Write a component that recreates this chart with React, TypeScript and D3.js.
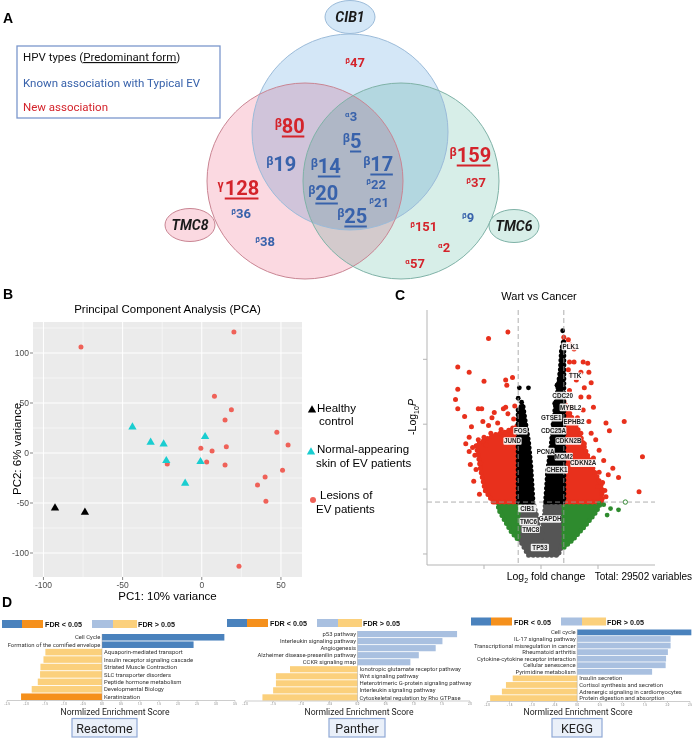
import React from 'react';
import * as d3 from 'd3';

const SANS = 'Roboto, "Liberation Sans", Arial, sans-serif';
const ARIAL = '"Liberation Sans", Arial, Helvetica, sans-serif';
const BLUE_TXT = '#3862ab';
const RED_TXT = '#d4232b';

// ---------- A: HPV types found with each EV gene ----------
const hpvTypes = ['47', '80', '19', '128', '36', '38', '3', '5', '14', '17', '22', '20', '21', '25', '159', '37', '9', '151', '2', '57'];
const hpvGenus = ['β', 'β', 'β', 'γ', 'β', 'β', 'α', 'β', 'β', 'β', 'β', 'β', 'β', 'β', 'β', 'β', 'β', 'β', 'α', 'α'];
const hpvKnownEV = [false, false, true, false, true, true, true, true, true, true, true, true, true, true, false, false, true, false, false, false];
const hpvPredominant = [false, true, false, true, false, false, false, true, true, true, false, true, false, true, true, false, false, false, false, false];
const hpvFrequent = [false, true, true, true, false, false, false, true, true, true, false, true, false, true, true, false, false, false, false, false];

// centre x / baseline y of every type inside the diagram
const vennSpots: Record<string, [number, number]> = {
  '47': [355, 67], '80': [289.5, 133], '19': [281, 171], '128': [238, 195], '36': [241, 218], '38': [265, 246],
  '3': [351, 121], '5': [352, 148], '14': [325.5, 173], '17': [378, 171], '22': [376, 188.5], '20': [323, 200],
  '21': [379, 207], '25': [352, 223], '159': [470, 162], '37': [476, 187], '9': [468, 222], '151': [423.5, 231],
  '2': [444, 252], '57': [415, 268],
};

// ---------- B: PCA scores (PC1, PC2) ----------
const pcaHealthy = [[-92.7, -55], [-73.8, -59.3]];
const pcaNormal = [[-43.8, 26], [-32.3, 10.7], [-24.1, 9], [-22.4, -7.7], [-10.5, -30.3], [-0.8, -8.7], [2.1, 16.3]];
const pcaLesion = [
  [-76.3, 106], [20.3, 121], [8, 56.7], [18.7, 43.3], [14.7, 33], [47.4, 20.7], [54.5, 8], [-0.6, 4.7], [15.5, 6.3],
  [6.5, 2], [3.1, -9], [-21.8, -11], [14.7, -12], [51, -17.3], [40, -24], [35.2, -32], [40.5, -48.3], [23.5, -113.3],
];

// ---------- C: volcano (log2 fold change, -log10 P) ----------
const fcCut = 2;
const pCut = 4;
const volcanoRedLeft = [
  [-2.9, 17.1], [-4.6, 16.6], [-7.3, 14.4], [-6.3, 14.0], [-5.0, 13.3], [-3.1, 13.4], [-2.5, 13.6], [-3.0, 13.0],
  [-7.5, 11.9], [-7.3, 12.7], [-7.3, 11.2], [-5.5, 11.2], [-5.2, 11.2], [-3.3, 11.2], [-3.1, 11.3], [-2.3, 11.4],
  [-6.7, 10.6], [-4.1, 10.9], [-4.3, 10.5], [-2.9, 10.8], [-6.1, 9.8], [-5.1, 10.2], [-4.6, 9.9], [-3.8, 10.1],
  [-6.3, 9.0], [-6.0, 8.2], [-6.3, 7.9], [-5.5, 8.8], [-5.0, 9.0], [-5.3, 7.0], [-5.7, 6.5], [-2.4, 10.4],
  [-3.5, 9.6], [-4.4, 9.3], [-5.8, 7.6], [-4.8, 8.4], [-6.6, 8.5], [-5.9, 5.6], [-5.4, 4.6], [-6.2, 6.9],
];
const volcanoRedRight = [
  [2.0, 16.7], [2.4, 16.5], [2.6, 16.1], [2.9, 15.8], [2.5, 14.8], [2.9, 14.8], [3.7, 14.8], [4.1, 14.7],
  [2.4, 14.2], [2.6, 13.8], [3.5, 14.0], [4.2, 14.0], [3.1, 13.4], [3.8, 12.8], [2.5, 12.6], [4.4, 13.2],
  [3.5, 12.1], [4.2, 12.1], [4.6, 11.3], [3.7, 11.1], [2.6, 11.3], [3.2, 10.5], [4.2, 10.2], [5.7, 10.1],
  [6.0, 9.5], [7.3, 10.2], [3.5, 9.3], [4.4, 9.3], [4.8, 8.8], [3.8, 8.5], [5.1, 8.0], [4.6, 7.4], [5.5, 7.2],
  [6.3, 6.6], [8.9, 7.5], [5.1, 6.3], [5.9, 6.1], [6.8, 5.9], [5.4, 5.5], [5.0, 5.2], [5.6, 4.9], [8.6, 4.8], [5.7, 4.4],
];
const volcanoBlack = [[1.9, 17.2], [-1.9, 12.8], [-1.1, 12.8], [-2.0, 12.0], [-1.7, 11.7], [1.6, 13.4], [1.8, 14.5], [1.4, 13.0], [1.2, 11.6]];
const volcanoGreen = [[6.1, 3.5], [6.8, 3.4], [5.5, 3.8], [5.1, 3.9], [5.8, 3.0], [4.4, 3.6]];
const volcanoGreenOpen = [[7.4, 4.0]];
// outlines of the densely packed clouds
const cloudBlackLeft = [[-2.0, 4.0], [-2.0, 11.1], [-1.6, 11.5], [-1.4, 10.3], [-1.1, 8.7], [-0.9, 6.8], [-0.7, 4.0]];
const cloudBlackRight = [[0.4, 4.0], [0.6, 6.5], [0.9, 8.4], [1.1, 10.3], [1.4, 12.2], [1.7, 14.2], [1.8, 15.7], [2.0, 16.5], [2.0, 4.0]];
const cloudGray = [[-2.0, 4.0], [-0.7, 4.0], [-0.4, 3.0], [0.0, 1.1], [0.3, 3.0], [0.4, 4.0], [2.0, 4.0], [2.0, 1.1], [1.5, -0.1], [-1.1, -0.1], [-2.0, 1.3]];
const cloudRedLeft = [[-4.2, 4.0], [-4.9, 4.9], [-5.3, 6.5], [-5.5, 7.6], [-5.7, 8.4], [-4.9, 8.8], [-4.0, 9.2], [-3.1, 9.4], [-2.5, 9.7], [-2.0, 9.9], [-2.0, 4.0]];
const cloudRedRight = [[2.0, 4.0], [2.0, 11.8], [2.6, 10.7], [3.3, 9.5], [3.9, 8.0], [4.6, 6.5], [5.3, 5.3], [5.4, 4.0]];
const cloudGreenLeft = [[-3.8, 4.0], [-2.0, 4.0], [-2.0, 1.1], [-2.6, 1.7], [-3.2, 2.6], [-3.7, 3.4]];
const cloudGreenRight = [[2.0, 4.0], [5.3, 4.0], [4.8, 3.2], [3.9, 2.2], [2.8, 1.1], [2.0, 0.5]];
const volcanoGenes = ['PLK1', 'TTK', 'CDC20', 'MYBL2', 'GTSE1', 'EPHB2', 'FOS', 'CDC25A', 'JUND', 'CDKN2B', 'PCNA', 'MCM2', 'CDKN2A', 'CHEK1', 'CIB1', 'TMC6', 'GAPDH', 'TMC8', 'TP53'];
const volcanoGeneAt = [
  [2.6, 16.0], [3.0, 13.7], [1.9, 12.2], [2.6, 11.3], [0.9, 10.5], [2.9, 10.2], [-1.8, 9.5], [1.1, 9.5], [-2.5, 8.7],
  [2.4, 8.7], [0.4, 7.9], [2.0, 7.5], [3.7, 7.0], [1.4, 6.5], [-1.2, 3.5], [-1.1, 2.5], [0.8, 2.7], [-0.9, 1.9], [-0.1, 0.5],
];

// ---------- D: enrichment (NES, FDR < 0.05) ----------
const reactomeTerms = ['Cell Cycle', 'Formation of the cornified envelope', 'Aquaporin-mediated transport', 'Insulin receptor signaling cascade', 'Striated Muscle Contraction', 'SLC transporter disorders', 'Peptide hormone metabolism', 'Developmental Biology', 'Keratinization'];
const reactomeNES = [3.22, 2.41, -1.49, -1.54, -1.62, -1.63, -1.69, -1.85, -2.13];
const reactomeSig = [true, true, false, false, false, false, false, false, true];

const pantherTerms = ['p53 pathway', 'Interleukin signaling pathway', 'Angiogenesis', 'Alzheimer disease-presenilin pathway', 'CCKR signaling map', 'Ionotropic glutamate receptor pathway', 'Wnt signaling pathway', 'Heterotrimeric G-protein signaling pathway', 'Interleukin signaling pathway', 'Cytoskeletal regulation by Rho GTPase'];
const pantherNES = [1.77, 1.51, 1.39, 1.09, 0.94, -1.2, -1.45, -1.45, -1.5, -1.69];
const pantherSig = [false, false, false, false, false, false, false, false, false, false];

const keggTerms = ['Cell cycle', 'IL-17 signaling pathway', 'Transcriptional misregulation in cancer', 'Rheumatoid arthritis', 'Cytokine-cytokine receptor interaction', 'Cellular senescence', 'Pyrimidine metabolism', 'Insulin secretion', 'Cortisol synthesis and secretion', 'Adrenergic signaling in cardiomyocytes', 'Protein digestion and absorption'];
const keggNES = [2.53, 2.07, 2.07, 2.01, 1.97, 1.96, 1.66, -1.43, -1.58, -1.67, -1.93];
const keggSig = [true, false, false, false, false, false, false, false, false, false, false];

const C_UP = '#4a82bd';
const C_DOWN = '#f5901c';
const C_UP_NS = '#a9c0e0';
const C_DOWN_NS = '#fbd07c';

function PanelLetter({ x, y, t }: { x: number; y: number; t: string }) {
  return <text x={x} y={y} fontFamily={ARIAL} fontWeight="bold" fontSize={14}>{t}</text>;
}

function Venn() {
  const sets = [
    { name: 'CIB1', cx: 350, cy: 132, fill: '#d4e7f7', stroke: '#9bbbd9', tag: [350, 17] },
    { name: 'TMC8', cx: 305, cy: 181, fill: '#fbd9e1', stroke: '#c98593', tag: [190, 225] },
    { name: 'TMC6', cx: 401, cy: 181, fill: '#d7eee8', stroke: '#7fb2a7', tag: [514, 226] },
  ];
  return (
    <g>
      <g style={{ isolation: 'isolate' }}>
        {sets.map(s => (
          <circle key={s.name} cx={s.cx} cy={s.cy} r={98} fill={s.fill} style={{ mixBlendMode: 'multiply' }} />
        ))}
      </g>
      {sets.map(s => (
        <circle key={s.name + 'o'} cx={s.cx} cy={s.cy} r={98} fill="none" stroke={s.stroke} strokeWidth={1} />
      ))}
      {sets.map(s => (
        <g key={s.name + 't'}>
          <ellipse cx={s.tag[0]} cy={s.tag[1]} rx={25} ry={16.5} fill={s.fill} stroke={s.stroke} strokeWidth={1} />
          <text x={s.tag[0]} y={s.tag[1] + 5} textAnchor="middle" fontFamily={SANS} fontWeight="bold" fontStyle="italic" fontSize={14} fill="#1a1a1a">{s.name}</text>
        </g>
      ))}
      {hpvTypes.map((t, i) => {
        const [cx, by] = vennSpots[t];
        const fs = hpvFrequent[i] ? 20 : 13;
        const sup = fs * 0.6;
        const gw = sup * 0.6;
        const dw = t.length * fs * 0.562;
        const left = cx - (gw + dw) / 2;
        const col = hpvKnownEV[i] ? BLUE_TXT : RED_TXT;
        return (
          <g key={t} fill={col} fontFamily={SANS} fontWeight="bold">
            <text x={left} y={by - fs * 0.32} fontSize={sup}>{hpvGenus[i]}</text>
            <text x={left + gw} y={by} fontSize={fs}>{t}</text>
            {hpvPredominant[i] && (
              <line x1={left + gw} x2={left + gw + dw} y1={by + 3.5} y2={by + 3.5} stroke={col} strokeWidth={2} />
            )}
          </g>
        );
      })}
      <rect x={17} y={46} width={203} height={72} fill="#fff" stroke="#7b97cc" strokeWidth={1.3} />
      <g fontFamily={SANS} fontSize={11.5}>
        <text x={23} y={61} fill="#111">HPV types (<tspan style={{ textDecoration: 'underline' }}>Predominant form</tspan>)</text>
        <text x={23} y={87} fill={BLUE_TXT}>Known association with Typical EV</text>
        <text x={23} y={111} fill={RED_TXT}>New association</text>
      </g>
    </g>
  );
}

function Pca() {
  const x = d3.scaleLinear().domain([-106.6, 63.3]).range([33, 302]);
  const y = d3.scaleLinear().domain([-124, 131]).range([577, 322]);
  const xMajor = [-100, -50, 0, 50];
  const xMinor = [-75, -25, 25];
  const yMajor = [-100, -50, 0, 50, 100];
  const yMinor = [-75, -25, 25, 75, 125];
  const tri = d3.symbol(d3.symbolTriangle).size(30)() as string;
  return (
    <g fontFamily={ARIAL}>
      <text x={167.5} y={313} textAnchor="middle" fontSize={11.5}>Principal Component Analysis (PCA)</text>
      <rect x={33} y={322} width={269} height={255} fill="#ebebeb" />
      {xMinor.map(v => <line key={'xm' + v} x1={x(v)} x2={x(v)} y1={322} y2={577} stroke="#fff" strokeWidth={0.5} />)}
      {yMinor.map(v => <line key={'ym' + v} y1={y(v)} y2={y(v)} x1={33} x2={302} stroke="#fff" strokeWidth={0.5} />)}
      {xMajor.map(v => <line key={'xM' + v} x1={x(v)} x2={x(v)} y1={322} y2={577} stroke="#fff" strokeWidth={1} />)}
      {yMajor.map(v => <line key={'yM' + v} y1={y(v)} y2={y(v)} x1={33} x2={302} stroke="#fff" strokeWidth={1} />)}
      {xMajor.map(v => (
        <g key={'xt' + v}>
          <line x1={x(v)} x2={x(v)} y1={577} y2={580} stroke="#333" strokeWidth={0.6} />
          <text x={x(v)} y={588} textAnchor="middle" fontSize={8.5} fill="#4d4d4d">{v}</text>
        </g>
      ))}
      {yMajor.map(v => (
        <g key={'yt' + v}>
          <line x1={30} x2={33} y1={y(v)} y2={y(v)} stroke="#333" strokeWidth={0.6} />
          <text x={29} y={y(v) + 3} textAnchor="end" fontSize={8.5} fill="#4d4d4d">{v}</text>
        </g>
      ))}
      <text x={167.5} y={600} textAnchor="middle" fontSize={11.5}>PC1: 10% variance</text>
      <text transform={`translate(21,${y(0) - 4}) rotate(-90)`} textAnchor="middle" fontSize={11.5}>PC2: 6% variance</text>
      {pcaLesion.map((d, i) => <circle key={'l' + i} cx={x(d[0])} cy={y(d[1])} r={2.5} fill="#ef6158" />)}
      {pcaNormal.map((d, i) => <path key={'n' + i} d={tri} transform={`translate(${x(d[0])},${y(d[1])})`} fill="#19cdd0" />)}
      {pcaHealthy.map((d, i) => <path key={'h' + i} d={tri} transform={`translate(${x(d[0])},${y(d[1])})`} fill="#000" />)}
      <g fontSize={11.5}>
        <path d={tri} transform="translate(312,410)" fill="#000" />
        <text x={317} y={411.5}>Healthy</text>
        <text x={319} y={424.5}>control</text>
        <path d={tri} transform="translate(311,452)" fill="#19cdd0" />
        <text x={317} y={453}>Normal-appearing</text>
        <text x={316} y={466.5}>skin of EV patients</text>
        <circle cx={313} cy={500} r={3} fill="#ef6158" />
        <text x={320} y={499}>Lesions of</text>
        <text x={316} y={513}>EV patients</text>
      </g>
    </g>
  );
}

function Volcano() {
  const x = d3.scaleLinear().domain([-10, 10]).range([427, 655]);
  const y = d3.scaleLinear().domain([-0.85, 18.8]).range([565, 310]);
  const poly = (pts: number[][]) => d3.line().curve(d3.curveLinearClosed)(pts.map(p => [x(p[0]), y(p[1])] as [number, number])) as string;
  // a dense cloud: filled outline plus a dotted rim so the edge reads as points
  const cloud = (pts: number[][], c: string) => (
    <g>
      <path d={poly(pts)} fill={c} stroke={c} strokeWidth={2.5} strokeLinejoin="round" />
      <path d={poly(pts)} fill="none" stroke={c} strokeWidth={5} strokeLinecap="round" strokeDasharray="0 4.6" />
    </g>
  );
  const red = '#e8301c';
  const green = '#2e8b2e';
  const gray = '#555555';
  return (
    <g fontFamily={ARIAL}>
      <text x={539} y={300} textAnchor="middle" fontSize={11}>Wart vs Cancer</text>
      {cloud(cloudGray, gray)}
      {cloud(cloudGreenLeft, green)}
      {cloud(cloudGreenRight, green)}
      {cloud(cloudRedLeft, red)}
      {cloud(cloudRedRight, red)}
      {cloud(cloudBlackLeft, '#000')}
      {cloud(cloudBlackRight, '#000')}
      {volcanoGreen.map((d, i) => <circle key={'g' + i} cx={x(d[0])} cy={y(d[1])} r={2.4} fill={green} />)}
      {volcanoGreenOpen.map((d, i) => <circle key={'go' + i} cx={x(d[0])} cy={y(d[1])} r={2.2} fill="#fff" stroke={green} strokeWidth={1} />)}
      {volcanoRedLeft.concat(volcanoRedRight).map((d, i) => <circle key={'r' + i} cx={x(d[0])} cy={y(d[1])} r={2.5} fill={red} />)}
      {volcanoBlack.map((d, i) => <circle key={'b' + i} cx={x(d[0])} cy={y(d[1])} r={2.4} fill="#000" />)}
      {/* cut-off guides */}
      {[-fcCut, fcCut].map(v => <line key={'v' + v} x1={x(v)} x2={x(v)} y1={310} y2={565} stroke="#9a9a9a" strokeDasharray="5,3" strokeWidth={0.8} />)}
      <line x1={427} x2={655} y1={y(pCut)} y2={y(pCut)} stroke="#9a9a9a" strokeDasharray="5,3" strokeWidth={0.8} />
      {volcanoGenes.map((g, i) => {
        const cx = x(volcanoGeneAt[i][0]);
        const cy = y(volcanoGeneAt[i][1]);
        const w = g.length * 3.8 + 3;
        return (
          <g key={g + i}>
            <rect x={cx - w / 2} y={cy - 3.8} width={w} height={7.6} fill="#fff" fillOpacity={0.9} rx={1} />
            <text x={cx} y={cy + 2.3} textAnchor="middle" fontSize={6.3} fontWeight="bold" fill="#222">{g}</text>
          </g>
        );
      })}
      <line x1={427} x2={427} y1={310} y2={565} stroke="#b5b5b5" strokeWidth={1} />
      <line x1={427} x2={655} y1={565} y2={565} stroke="#b5b5b5" strokeWidth={1} />
      {[0, 5, 10, 15].map(v => <line key={'yt' + v} x1={423} x2={427} y1={y(v)} y2={y(v)} stroke="#b5b5b5" strokeWidth={1} />)}
      {[-5, 0, 5].map(v => <line key={'xt' + v} x1={x(v)} x2={x(v)} y1={565} y2={569} stroke="#b5b5b5" strokeWidth={1} />)}
      <text transform="translate(416,417) rotate(-90)" textAnchor="middle" fontSize={10.5}>
        -Log<tspan fontSize={7} dy={2.5}>10</tspan><tspan dy={-2.5} fontStyle="italic">P</tspan>
      </text>
      <text x={546} y={580} textAnchor="middle" fontSize={10.5}>
        Log<tspan fontSize={7} dy={2.5}>2</tspan><tspan dy={-2.5}> fold change</tspan>
      </text>
      <text x={692} y={580} textAnchor="end" fontSize={10}>Total: 29502 variables</text>
    </g>
  );
}

type EnrichProps = {
  terms: string[]; nes: number[]; sig: boolean[];
  domain: [number, number]; range: [number, number]; rows: [number, number];
  db: string; box: [number, number]; titleX: number;
};

function Enrichment({ terms, nes, sig, domain, range, rows, db, box, titleX }: EnrichProps) {
  const x = d3.scaleLinear().domain(domain).range(range);
  const band = d3.scaleBand<number>().domain(d3.range(terms.length)).range(rows).paddingInner(0.12);
  const ticks = d3.range(domain[0], domain[1] + 0.01, 0.5);
  const x0 = x(0);
  const axisY = rows[1] + 0.5;
  return (
    <g fontFamily={SANS}>
      {terms.map((t, i) => {
        const v = nes[i];
        const c = v >= 0 ? (sig[i] ? C_UP : C_UP_NS) : (sig[i] ? C_DOWN : C_DOWN_NS);
        const by = band(i) as number;
        return (
          <g key={i}>
            <rect x={Math.min(x(v), x0)} y={by} width={Math.abs(x(v) - x0)} height={band.bandwidth()} fill={c} />
            <text x={v >= 0 ? x0 - 1.5 : x0 + 2} y={by + band.bandwidth() / 2 + 2.1} textAnchor={v >= 0 ? 'end' : 'start'} fontSize={5.9} fill="#333">{t}</text>
          </g>
        );
      })}
      <line x1={x0} x2={x0} y1={rows[0]} y2={axisY} stroke="#9a9a9a" strokeWidth={0.4} />
      <line x1={range[0]} x2={range[1]} y1={axisY} y2={axisY} stroke="#9a9a9a" strokeWidth={0.5} />
      {ticks.map(v => (
        <g key={v}>
          <line x1={x(v)} x2={x(v)} y1={axisY} y2={axisY + 1.3} stroke="#9a9a9a" strokeWidth={0.5} />
          <text x={x(v)} y={axisY + 4} textAnchor="middle" fontSize={2.8} fill="#777">{d3.format('.1f')(v)}</text>
        </g>
      ))}
      <text x={titleX} y={714.5} textAnchor="middle" fontSize={8.6} fill="#222">Normlized Enrichment Score</text>
      <rect x={box[0]} y={718.5} width={box[1] - box[0]} height={18.5} fill="#eaf0f9" stroke="#8fa9d6" strokeWidth={1.2} />
      <text x={(box[0] + box[1]) / 2} y={732.5} textAnchor="middle" fontSize={12.5} fill="#222">{db}</text>
    </g>
  );
}

function FdrKey({ x, y }: { x: number; y: number }) {
  return (
    <g fontFamily={ARIAL} fontWeight="bold" fontSize={7.2}>
      <rect x={x} y={y} width={20} height={8} fill={C_UP} />
      <rect x={x + 20} y={y} width={21} height={8} fill={C_DOWN} />
      <text x={x + 43} y={y + 7} fill="#111">FDR &lt; 0.05</text>
      <rect x={x + 90} y={y} width={21} height={8} fill={C_UP_NS} />
      <rect x={x + 111} y={y} width={24} height={8} fill={C_DOWN_NS} />
      <text x={x + 136} y={y + 7} fill="#111">FDR &gt; 0.05</text>
    </g>
  );
}

export default function App() {
  return (
    <div style={{ position: 'absolute', left: 0, top: 0 }}>
      <svg width={700} height={738} style={{ display: 'block', background: '#fff' }}>
        <rect width={700} height={738} fill="#fff" />
        <PanelLetter x={3} y={23} t="A" />
        <PanelLetter x={3} y={299} t="B" />
        <PanelLetter x={395} y={300} t="C" />
        <PanelLetter x={2} y={607} t="D" />
        <Venn />
        <Pca />
        <Volcano />
        <FdrKey x={2} y={620} />
        <FdrKey x={227} y={619} />
        <FdrKey x={471} y={617.5} />
        <Enrichment terms={reactomeTerms} nes={reactomeNES} sig={reactomeSig} domain={[-2.5, 3.5]} range={[7, 235]} rows={[634, 700]} db="Reactome" box={[72, 137]} titleX={115} />
        <Enrichment terms={pantherTerms} nes={pantherNES} sig={pantherSig} domain={[-2, 2]} range={[245, 470]} rows={[631, 700.5]} db="Panther" box={[329, 385]} titleX={359} />
        <Enrichment terms={keggTerms} nes={keggNES} sig={keggSig} domain={[-2, 2.5]} range={[487, 690]} rows={[629.5, 701]} db="KEGG" box={[552, 602]} titleX={578} />
      </svg>
    </div>
  );
}
